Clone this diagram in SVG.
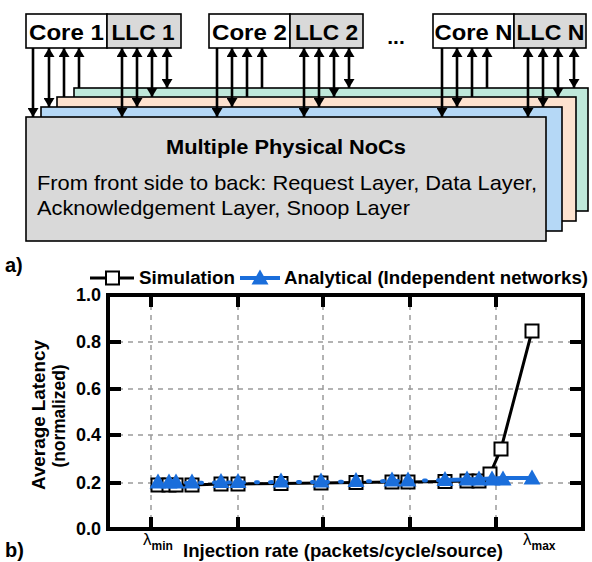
<svg xmlns="http://www.w3.org/2000/svg" xmlns:xlink="http://www.w3.org/1999/xlink" width="592" height="562" viewBox="0 0 592 562">
<style>
text{font-family:"Liberation Sans",Arial,sans-serif;fill:#000}
.b{font-weight:bold}
.box{stroke:#000;stroke-width:1.6}
.ar{stroke:#000;stroke-width:2.6;fill:none}
.grid{stroke:#9a9a9a;stroke-width:1.5;stroke-dasharray:5 5;fill:none}
.tick{stroke:#000;stroke-width:4}
.sq{fill:#fff;stroke:#000;stroke-width:2}
.tri{fill:#1a6edb}
</style>
<defs>
<marker id="ah" viewBox="0 0 9 11" refX="9" refY="5.5" markerWidth="9" markerHeight="11" markerUnits="userSpaceOnUse" orient="auto-start-reverse"><path d="M0,0 L9,5.5 L0,11 z" fill="#000"/></marker>
<path id="tri" d="M-8.5,7.5 L8.5,7.5 L0,-7.5 z"/>
<rect id="sq" x="-6.5" y="-6.5" width="13" height="13"/>
</defs>

<!-- NoC layers, back to front -->
<g id="layer-snoop"><rect class="box" x="74" y="88" width="514" height="123" fill="#bfe8da"/></g>
<g id="layer-ack"><rect class="box" x="57" y="97" width="519" height="124" fill="#fde2cf"/></g>
<g id="layer-data"><rect class="box" x="41" y="107" width="521" height="124" fill="#b5d8f6"/></g>
<g id="layer-request">
<rect class="box" x="26" y="117" width="520" height="124" fill="#d9d9d9"/>
<text class="b" x="286" y="154" font-size="20" text-anchor="middle" textLength="240" lengthAdjust="spacingAndGlyphs">Multiple Physical NoCs</text>
<text x="37" y="190" font-size="21" textLength="500" lengthAdjust="spacingAndGlyphs">From front side to back: Request Layer, Data Layer,</text>
<text x="37" y="215" font-size="21" textLength="373" lengthAdjust="spacingAndGlyphs">Acknowledgement Layer, Snoop Layer</text>
</g>

<!-- Top nodes -->
<g id="core1"><rect class="box" x="26" y="14" width="81" height="34" fill="#fff"/><text class="b" x="66.5" y="40" font-size="22" text-anchor="middle" textLength="75" lengthAdjust="spacingAndGlyphs">Core 1</text></g>
<g id="llc1"><rect class="box" x="107" y="14" width="74" height="34" fill="#d9d9d9"/><text class="b" x="143" y="40" font-size="22" text-anchor="middle" textLength="63" lengthAdjust="spacingAndGlyphs">LLC 1</text></g>
<g id="core2"><rect class="box" x="209" y="14" width="81" height="34" fill="#fff"/><text class="b" x="249.5" y="40" font-size="22" text-anchor="middle" textLength="75" lengthAdjust="spacingAndGlyphs">Core 2</text></g>
<g id="llc2"><rect class="box" x="290" y="14" width="73" height="34" fill="#d9d9d9"/><text class="b" x="326.5" y="40" font-size="22" text-anchor="middle" textLength="63" lengthAdjust="spacingAndGlyphs">LLC 2</text></g>
<g id="dots"><text class="b" x="396" y="44" font-size="21" text-anchor="middle">...</text></g>
<g id="coreN"><rect class="box" x="433" y="14" width="81" height="34" fill="#fff"/><text class="b" x="473.5" y="40" font-size="22" text-anchor="middle" textLength="78" lengthAdjust="spacingAndGlyphs">Core N</text></g>
<g id="llcN"><rect class="box" x="514" y="14" width="72" height="34" fill="#d9d9d9"/><text class="b" x="550.5" y="40" font-size="22" text-anchor="middle" textLength="68" lengthAdjust="spacingAndGlyphs">LLC N</text></g>

<!-- Connectors -->
<g id="connectors" class="ar">
<line x1="33" y1="48" x2="33" y2="117" marker-end="url(#ah)"/>
<line x1="49" y1="48" x2="49" y2="107" marker-start="url(#ah)" marker-end="url(#ah)"/>
<line x1="64" y1="97" x2="64" y2="48" marker-end="url(#ah)"/>
<line x1="79" y1="88" x2="79" y2="48" marker-end="url(#ah)"/>
<line x1="122" y1="48" x2="122" y2="117" marker-start="url(#ah)" marker-end="url(#ah)"/>
<line x1="137" y1="48" x2="137" y2="107" marker-start="url(#ah)" marker-end="url(#ah)"/>
<line x1="152" y1="48" x2="152" y2="97" marker-start="url(#ah)" marker-end="url(#ah)"/>
<line x1="167" y1="48" x2="167" y2="88" marker-start="url(#ah)" marker-end="url(#ah)"/>
<line x1="217" y1="48" x2="217" y2="117" marker-end="url(#ah)"/>
<line x1="232" y1="48" x2="232" y2="107" marker-start="url(#ah)" marker-end="url(#ah)"/>
<line x1="247" y1="97" x2="247" y2="48" marker-end="url(#ah)"/>
<line x1="262" y1="88" x2="262" y2="48" marker-end="url(#ah)"/>
<line x1="304" y1="48" x2="304" y2="117" marker-start="url(#ah)" marker-end="url(#ah)"/>
<line x1="319" y1="48" x2="319" y2="107" marker-start="url(#ah)" marker-end="url(#ah)"/>
<line x1="334" y1="48" x2="334" y2="97" marker-start="url(#ah)" marker-end="url(#ah)"/>
<line x1="349" y1="48" x2="349" y2="88" marker-start="url(#ah)" marker-end="url(#ah)"/>
<line x1="442" y1="48" x2="442" y2="117" marker-end="url(#ah)"/>
<line x1="457" y1="48" x2="457" y2="107" marker-start="url(#ah)" marker-end="url(#ah)"/>
<line x1="472" y1="97" x2="472" y2="48" marker-end="url(#ah)"/>
<line x1="487" y1="88" x2="487" y2="48" marker-end="url(#ah)"/>
<line x1="528" y1="48" x2="528" y2="117" marker-start="url(#ah)" marker-end="url(#ah)"/>
<line x1="543" y1="48" x2="543" y2="107" marker-start="url(#ah)" marker-end="url(#ah)"/>
<line x1="558" y1="48" x2="558" y2="97" marker-start="url(#ah)" marker-end="url(#ah)"/>
<line x1="574" y1="48" x2="574" y2="88" marker-start="url(#ah)" marker-end="url(#ah)"/>
</g>

<text class="b" x="5" y="272" font-size="20">a)</text>

<!-- Chart -->
<g id="chart">
<g id="legend">
<line x1="90" y1="278" x2="134" y2="278" stroke="#000" stroke-width="3"/>
<use href="#sq" x="112.5" y="278" class="sq"/>
<text class="b" x="139" y="284" font-size="18" textLength="96" lengthAdjust="spacingAndGlyphs">Simulation</text>
<line x1="240" y1="278" x2="280" y2="278" stroke="#1a6edb" stroke-width="4"/>
<use href="#tri" x="260" y="277" class="tri"/>
<text class="b" x="284" y="284" font-size="18" textLength="304" lengthAdjust="spacingAndGlyphs">Analytical (Independent networks)</text>
</g>
<g id="grid" class="grid">
<line x1="108" y1="342" x2="583" y2="342"/>
<line x1="108" y1="389" x2="583" y2="389"/>
<line x1="108" y1="435" x2="583" y2="435"/>
<line x1="108" y1="483" x2="583" y2="483"/>
<line x1="151" y1="295" x2="151" y2="529"/>
<line x1="238" y1="295" x2="238" y2="529"/>
<line x1="323" y1="295" x2="323" y2="529"/>
<line x1="410" y1="295" x2="410" y2="529"/>
<line x1="496" y1="295" x2="496" y2="529"/>
</g>
<g id="ticks" class="tick">
<line x1="108" y1="342" x2="121" y2="342"/><line x1="570" y1="342" x2="583" y2="342"/>
<line x1="108" y1="389" x2="121" y2="389"/><line x1="570" y1="389" x2="583" y2="389"/>
<line x1="108" y1="435" x2="121" y2="435"/><line x1="570" y1="435" x2="583" y2="435"/>
<line x1="108" y1="483" x2="121" y2="483"/><line x1="570" y1="483" x2="583" y2="483"/>
<line x1="151" y1="295" x2="151" y2="307"/><line x1="151" y1="529" x2="151" y2="517"/>
<line x1="238" y1="295" x2="238" y2="307"/><line x1="238" y1="529" x2="238" y2="517"/>
<line x1="323" y1="295" x2="323" y2="307"/><line x1="323" y1="529" x2="323" y2="517"/>
<line x1="410" y1="295" x2="410" y2="307"/><line x1="410" y1="529" x2="410" y2="517"/>
<line x1="496" y1="295" x2="496" y2="307"/><line x1="496" y1="529" x2="496" y2="517"/>
</g>
<rect x="108" y="295" width="475" height="234" fill="none" stroke="#000" stroke-width="4"/>
<g id="ylabels" class="b" font-size="18" text-anchor="end">
<text x="101" y="301">1.0</text>
<text x="101" y="348">0.8</text>
<text x="101" y="395">0.6</text>
<text x="101" y="441">0.4</text>
<text x="101" y="489">0.2</text>
<text x="101" y="535">0.0</text>
</g>
<text class="b" font-size="19" text-anchor="middle" transform="translate(45,415) rotate(-90)" textLength="150" lengthAdjust="spacingAndGlyphs">Average Latency</text>
<text class="b" font-size="17.5" text-anchor="middle" transform="translate(65,416) rotate(-90)" textLength="103" lengthAdjust="spacingAndGlyphs">(normalized)</text>
<text x="143" y="545" font-size="17">λ<tspan class="b" font-size="12" dy="5">min</tspan></text>
<text x="523" y="545" font-size="17">λ<tspan class="b" font-size="12" dy="5">max</tspan></text>
<text class="b" x="183" y="557" font-size="19" textLength="320" lengthAdjust="spacingAndGlyphs">Injection rate (packets/cycle/source)</text>

<g id="sim">
<polyline fill="none" stroke="#000" stroke-width="3" points="158,485 169,485 176,485 192,485 221,484 238,484 281,483.5 321,483 356,482.5 392,482 408,482 445,481.5 467,481 479,481 490,474 501,449 532,331"/>
<g class="sq">
<use href="#sq" x="158" y="485"/><use href="#sq" x="169" y="485"/><use href="#sq" x="176" y="485"/><use href="#sq" x="192" y="485"/><use href="#sq" x="221" y="484"/><use href="#sq" x="238" y="484"/><use href="#sq" x="281" y="483.5"/><use href="#sq" x="321" y="483"/><use href="#sq" x="356" y="482.5"/><use href="#sq" x="392" y="482"/><use href="#sq" x="408" y="482"/><use href="#sq" x="445" y="481.5"/><use href="#sq" x="467" y="481"/><use href="#sq" x="479" y="481"/><use href="#sq" x="490" y="474"/><use href="#sq" x="501" y="449"/><use href="#sq" x="532" y="331"/>
</g>
</g>
<g id="analytical">
<polyline fill="none" stroke="#1a6edb" stroke-width="4" stroke-linecap="round" stroke-dasharray="2 12" points="158,483 169,483 176,483 192,483 221,482.5 238,482.5 281,482 321,482 356,481.5 392,481 408,481 445,480"/>
<polyline fill="none" stroke="#1a6edb" stroke-width="4" points="445,480 467,479.5 479,479 492,478.5 503,478 532,478"/>
<g class="tri">
<use href="#tri" x="158" y="481"/><use href="#tri" x="169" y="481"/><use href="#tri" x="176" y="481"/><use href="#tri" x="192" y="481"/><use href="#tri" x="221" y="480.5"/><use href="#tri" x="238" y="480.5"/><use href="#tri" x="281" y="480"/><use href="#tri" x="321" y="480"/><use href="#tri" x="356" y="479.5"/><use href="#tri" x="392" y="479"/><use href="#tri" x="408" y="479"/><use href="#tri" x="445" y="478.5"/><use href="#tri" x="467" y="478"/><use href="#tri" x="479" y="478"/><use href="#tri" x="492" y="478"/><use href="#tri" x="503" y="478"/><use href="#tri" x="532" y="477"/>
</g>
</g>
</g>
<text class="b" x="5" y="557" font-size="20">b)</text>
</svg>
